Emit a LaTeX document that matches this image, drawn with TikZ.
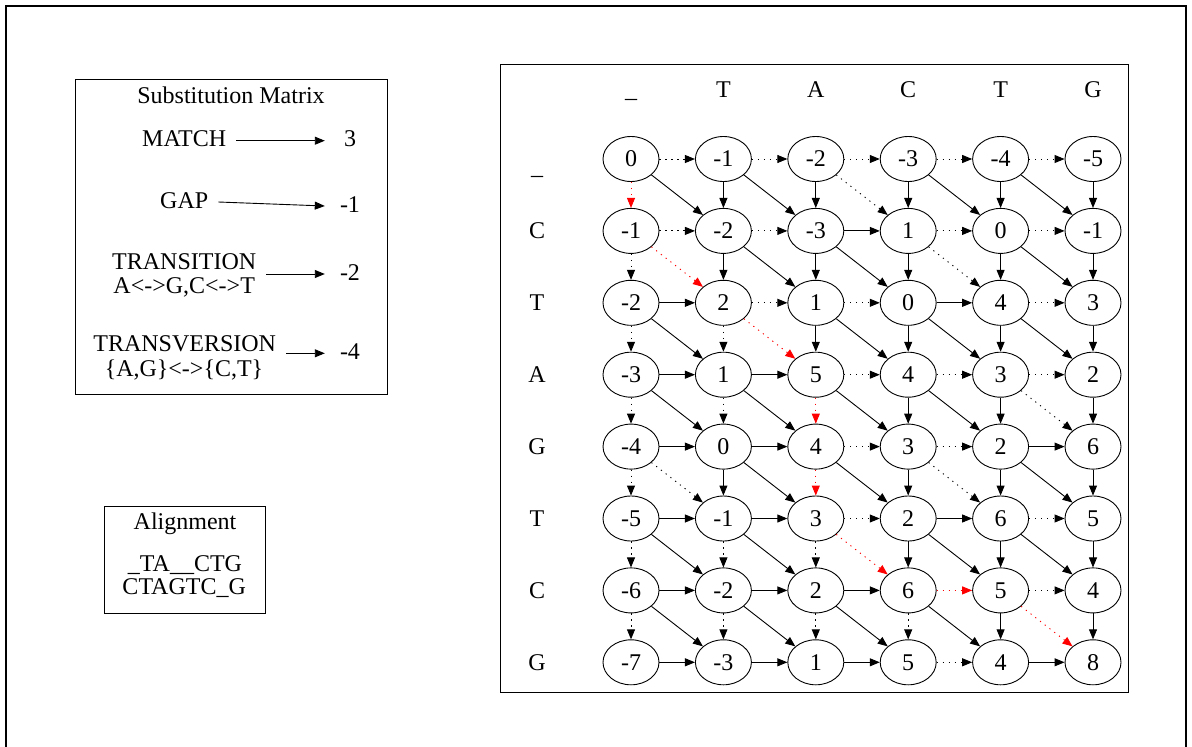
\documentclass[tikz,border=0pt]{standalone}
\usepackage{fontspec}
\setmainfont{Liberation Serif}
\usetikzlibrary{arrows.meta,shapes.geometric}
\begin{document}
\begin{tikzpicture}[x=1pt,y=-1pt,
  every node/.style={inner sep=0pt, font=\fontsize{24}{24}\selectfont},
  cell/.style={draw, ellipse, line width=0.9pt, minimum width=56pt, minimum height=45pt},
  lbl/.style={anchor=base, inner xsep=10pt, text height=16pt, text depth=4pt},
  val/.style={anchor=base, minimum width=50pt, text height=16pt, text depth=4pt},
  edgeS/.style={line width=0.9pt, -{Triangle[length=10pt,width=8pt]}},
  edgeD/.style={edgeS, dash pattern=on 1.2pt off 4.8pt},
  edgeR/.style={edgeD, color=red},
  boxed/.style={draw, line width=1pt}
]
\useasboundingbox (0,0) rectangle (1192,747);
\clip (0,0) rectangle (1192,747);
\draw[line width=1.2pt] (6,760) -- (6,6) -- (1186,6) -- (1186,760);

% clusters
\node[boxed, minimum width=312pt, minimum height=315pt] (subm) at (231,236.5) {};
\node[boxed, minimum width=161pt, minimum height=107pt] (alnbox) at (185.3,559.5) {};
\node[boxed, minimum width=628pt, minimum height=628pt] (matbox) at (814,378) {};

% substitution matrix
\node[anchor=base] (subtitle) at (231,103) {Substitution Matrix};
\node[lbl] (lm) at (184.2,146) {MATCH};
\node[val] (v3) at (350,146.7) {3};
\node[lbl] (lg) at (184.2,208) {GAP};
\node[val] (v1) at (350,212) {-1};
\node[lbl] (lt) at (184.2,269) {TRANSITION};
\node[anchor=base] (lt2) at (184.2,293) {A<->G,C<->T};
\node[val] (v2) at (350,280) {-2};
\node[lbl] (lv) at (184.7,351.7) {TRANSVERSION};
\node[anchor=base] (lv2) at (184,376.7) {\{A,G\}<->\{C,T\}};
\node[val] (v4) at (350,359.3) {-4};
\draw[edgeS] (lm.east |- v3.west) -- (v3.west);
\draw[edgeS] (lg.east) -- (v1.west);
\draw[edgeS] (lt.east |- v2.west) -- (v2.west);
\draw[edgeS] (lv.east |- v4.west) -- (v4.west);

% alignment
\node[anchor=base] (alt) at (185,529.3) {Alignment};
\node[anchor=base] (al1) at (185,571.7) {\_TA\_\_CTG};
\node[anchor=base] (al2) at (184.2,594.3) {CTAGTC\_G};

% headers
\foreach \t [count=\cc from 0] in {\_,T,A,C,T,G}
  \node[anchor=base] (h\cc) at ({631+92.4*\cc},97) {\t};
\node[anchor=base] (l0) at (537,174) {\_};
\foreach \t [count=\rr from 1] in {C,T,A,G,T,C,G}
  \node[anchor=base] (l\rr) at (537,{159+71.9*\rr+8}) {\t};

% cells
\foreach \r/\vals in {0/{0,-1,-2,-3,-4,-5},1/{-1,-2,-3,1,0,-1},2/{-2,2,1,0,4,3},3/{-3,1,5,4,3,2},
                      4/{-4,0,4,3,2,6},5/{-5,-1,3,2,6,5},6/{-6,-2,2,6,5,4},7/{-7,-3,1,5,4,8}}{
  \foreach \v [count=\cc from 0] in \vals {
    \node[cell] (n\r\cc) at ({631+92.4*\cc},{159+71.9*\r}) {\v};
  }
}

% horizontal edges
\foreach \r/\lst in {0/{D,D,D,D,D},1/{D,D,S,D,D},2/{S,D,D,S,D},3/{S,S,D,D,D},
                     4/{S,S,D,D,S},5/{S,S,D,S,D},6/{S,S,S,R,D},7/{S,S,S,D,S}}{
  \foreach \s [count=\cc from 0] in \lst {
    \pgfmathtruncatemacro\cn{\cc+1}
    \draw[edge\s] (n\r\cc) -- (n\r\cn);
  }
}
% vertical edges
\foreach \r/\lst in {0/{R,S,S,S,S,S},1/{D,S,S,S,S,S},2/{D,D,S,S,S,S},3/{D,D,R,S,S,S},
                     4/{D,S,R,S,S,S},5/{D,D,D,S,S,S},6/{D,D,D,D,S,S}}{
  \pgfmathtruncatemacro\rn{\r+1}
  \foreach \s [count=\cc from 0] in \lst {
    \draw[edge\s] (n\r\cc) -- (n\rn\cc);
  }
}
% diagonal edges
\foreach \r/\lst in {0/{S,S,D,S,S},1/{R,S,S,D,S},2/{S,R,S,S,S},3/{S,S,S,S,D},
                     4/{D,S,S,D,S},5/{S,S,R,S,S},6/{S,S,S,S,R}}{
  \pgfmathtruncatemacro\rn{\r+1}
  \foreach \s [count=\cc from 0] in \lst {
    \pgfmathtruncatemacro\cn{\cc+1}
    \draw[edge\s] (n\r\cc) -- (n\rn\cn);
  }
}
\end{tikzpicture}
\end{document}
